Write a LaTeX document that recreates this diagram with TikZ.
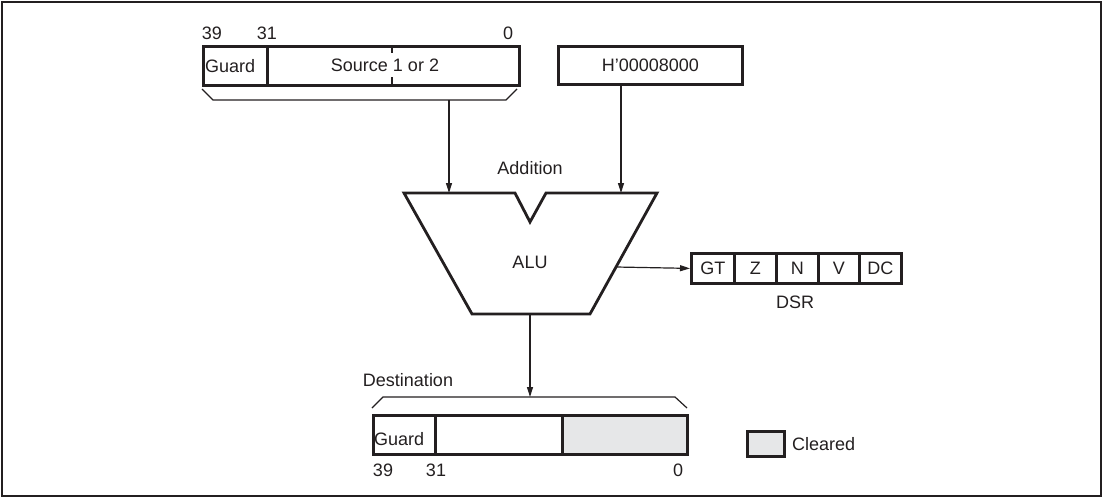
\documentclass[tikz,border=0pt]{standalone}
\usepackage{fontspec}
\setmainfont{Liberation Sans}
\usetikzlibrary{arrows.meta}
\definecolor{ink}{HTML}{231F20}
\definecolor{clr}{HTML}{E6E7E8}
\begin{document}
\begin{tikzpicture}[x=1pt,y=-1pt,
  cell/.style={draw=ink, line width=2.8pt, inner sep=0pt, anchor=north west},
  txt/.style={text=ink, inner sep=0pt, font=\fontsize{18}{20}\selectfont},
  thinline/.style={draw=ink, line width=1.2pt},
  arr/.style={draw=ink, line width=1.2pt, -{Triangle[length=10pt,width=6pt]}},
  thick/.style={draw=ink, line width=2.8pt, line join=miter}]
\useasboundingbox (0,0) rectangle (1103,498);
\draw[draw=ink, line width=2.4pt] (2,2) rectangle (1101,496);

% source register
\node[cell, minimum width=64, minimum height=39] (sg) at (202,45) {};
\node[cell, minimum width=252, minimum height=39] (ss) at (266,45) {};
\node[txt, anchor=west] (sgt) at ([xshift=3pt]sg.west) {Guard};
\node[txt] (sst) at (385,65) {Source 1 or 2};
\draw[thick] (392,45) -- (392,53) (392,77) -- (392,84);
\node[txt] (s39) at (212,33) {39};
\node[txt] (s31) at (267,33) {31};
\node[txt] (s0) at (508,33) {0};
\draw[thinline] (202,89) -- (213,100) -- (506,100) -- (517,89);
\coordinate (sbr) at (449,100);

% constant
\node[cell, minimum width=184, minimum height=38] (hc) at (557,45) {};
\node[txt] (hct) at (hc.center) {H'00008000};

% ALU
\draw[thick] (404,193) -- (515,193) -- (530,222) -- (546,193) -- (657,193)
  -- (590,314) -- (472,314) -- cycle;
\coordinate (ain1) at (449,193);
\coordinate (ain2) at (621,193);
\coordinate (aout) at (530,314);
\coordinate (aright) at (616,267);
\node[txt] (alu) at (530,262) {ALU};
\node[txt] (add) at (530,168) {Addition};
\draw[arr] (sbr) -- (ain1);
\draw[arr] (hc.south -| ain2) -- (ain2);

% DSR
\node[cell, minimum width=43, minimum height=30] (gt) at (690,252) {};
\node[cell, minimum width=42, minimum height=30] (z) at (733,252) {};
\node[cell, minimum width=42, minimum height=30] (n) at (775,252) {};
\node[cell, minimum width=41, minimum height=30] (v) at (817,252) {};
\node[cell, minimum width=42, minimum height=30] (dc) at (858,252) {};
\node[txt] at (gt.center) {GT};
\node[txt] at (z.center) {Z};
\node[txt] at (n.center) {N};
\node[txt] at (v.center) {V};
\node[txt] at (dc.center) {DC};
\node[txt] (dsr) at (795,302) {DSR};
\draw[arr] (aright) -- (gt.west);

% destination
\node[txt] (dest) at (408,380) {Destination};
\draw[thinline] (372,408) -- (383,397) -- (675,397) -- (687,408);
\coordinate (dbr) at (530,397);
\draw[arr] (aout) -- (dbr);
\node[cell, minimum width=62, minimum height=39] (dg) at (372,414) {};
\node[cell, minimum width=127, minimum height=39] (dm) at (434,414) {};
\node[cell, fill=clr, minimum width=125, minimum height=39] (dl) at (561,414) {};
\node[txt, anchor=west] (dgt) at (374,439) {Guard};
\node[txt] (d39) at (383,470) {39};
\node[txt] (d31) at (436,470) {31};
\node[txt] (d0) at (678,470) {0};

% legend
\node[cell, fill=clr, minimum width=37, minimum height=25] (leg) at (746,430) {};
\node[txt, anchor=west] (legt) at ([xshift=6pt]leg.east) {Cleared};
\end{tikzpicture}
\end{document}
